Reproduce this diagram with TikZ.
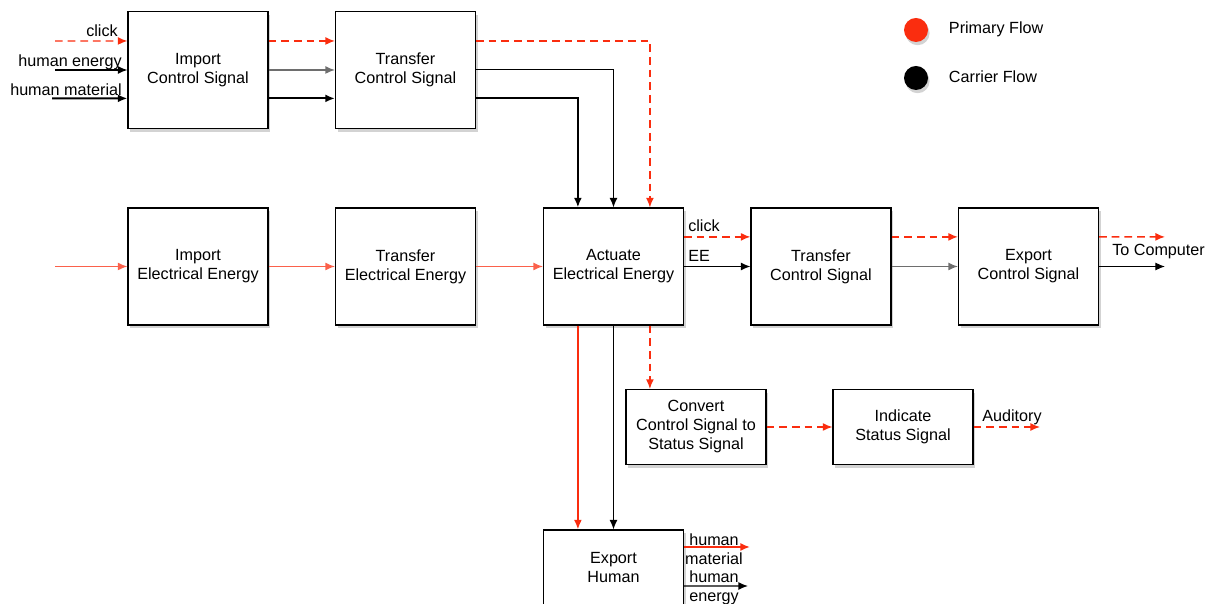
\documentclass[tikz,border=0pt]{standalone}
\usepackage{fontspec}
\setmainfont{Liberation Sans}
\usepackage{xcolor}
\usetikzlibrary{arrows.meta,positioning,calc,shadows}

\definecolor{flowred}{RGB}{250,45,15}
\definecolor{flowgray}{RGB}{110,110,110}

\tikzset{
    blockbox/.style={draw=black, line width=0.8pt, fill=white, align=center,
        minimum width=3.5cm, minimum height=2.925cm, inner sep=1pt,
        drop shadow={opacity=0.35, shadow xshift=0.6mm, shadow yshift=-0.8mm}},
    flowtip/.style={-{Latex[length=2.4mm,width=2mm]}},
    primdash/.style={flowtip, draw=flowred, line width=1pt, dash pattern=on 5.5pt off 3.5pt},
    primline/.style={flowtip, draw=flowred!75, line width=1pt},
    primthick/.style={flowtip, draw=flowred, line width=1.4pt},
    carrline/.style={flowtip, draw=black, line width=0.8pt},
    carrgray/.style={flowtip, draw=flowgray, line width=1pt},
    carrthick/.style={flowtip, draw=black, line width=1.4pt},
    flowlabel/.style={inner sep=0pt, align=center}
}

\begin{document}
\begin{tikzpicture}[x=0.025cm, y=0.025cm, font=\fontsize{11.5}{13.5}\selectfont]
    \useasboundingbox (0,0) rectangle (1212,604);

    % function blocks
    \foreach \name/\x/\y/\txt in {ics/198/534/{Import\\Control Signal},
        tcs/405.5/534/{Transfer\\Control Signal},
        iee/198/337.5/{Import\\Electrical Energy},
        tee/405.5/337.5/{Transfer\\Electrical Energy},
        aee/613.5/337.5/{Actuate\\Electrical Energy},
        tcsb/821/337.5/{Transfer\\Control Signal},
        ecs/1028.5/337.5/{Export\\Control Signal}} {
        \node[blockbox] (\name) at (\x,\y) {\txt};
    }
    \node[blockbox, minimum height=1.875cm] (conv) at (696,177) {Convert\\Control Signal to\\Status Signal};
    \node[blockbox, minimum height=1.875cm] (ind) at (903,177) {Indicate\\Status Signal};
    \node[blockbox, minimum height=1.9cm] (eh) at (613.5,36) {Export\\Human};

    % free ends
    \coordinate (inclick) at (55,563);
    \coordinate (inenergy) at (55,534);
    \coordinate (inmaterial) at (52,505.6);
    \coordinate (inee) at (55,337.5);
    \coordinate (outclick) at (1165,367.1);
    \coordinate (outcomp) at (1165,337.5);
    \coordinate (outaud) at (1040,177);
    \coordinate (outmat) at (750,57);
    \coordinate (outen) at (748,18);

    % control signal row
    \draw[primdash] (inclick) -- ([yshift=7.25mm]ics.west);
    \draw[carrline] (inenergy) -- (ics.west);
    \draw[carrthick] (inmaterial) -- ([yshift=-7.1mm]ics.west);
    \node[flowlabel, anchor=base east] (lclick) at (118,567) {click};
    \node[flowlabel, anchor=base east] (lenergy) at (122,537) {human energy};
    \node[flowlabel, anchor=base east] (lmaterial) at (122,508) {human material};

    \draw[primdash] ([yshift=7.25mm]ics.east) -- ([yshift=7.25mm]tcs.west);
    \draw[carrgray] (ics.east) -- (tcs.west);
    \draw[carrthick] ([yshift=-7.1mm]ics.east) -- ([yshift=-7.1mm]tcs.west);

    \draw[primdash] ([yshift=7.25mm]tcs.east) -| ([xshift=9.1mm]aee.north);
    \draw[carrline] ([yshift=0.2mm]tcs.east) -| (aee.north);
    \draw[carrthick] ([yshift=-7.1mm]tcs.east) -| ([xshift=-8.9mm]aee.north);

    % energy row
    \draw[primline] (inee) -- (iee.west);
    \draw[primline] (iee) -- (tee);
    \draw[primline] (tee) -- (aee);

    \draw[primdash] ([yshift=7.4mm]aee.east) -- ([yshift=7.4mm]tcsb.west);
    \draw[carrline] (aee.east) -- (tcsb.west);
    \node[flowlabel, anchor=base west] (lclickb) at (688,372) {click};
    \node[flowlabel, anchor=base west] (lee) at (688,342.5) {EE};

    \draw[primdash] ([yshift=7.4mm]tcsb.east) -- ([yshift=7.4mm]ecs.west);
    \draw[carrgray] (tcsb.east) -- (ecs.west);

    \draw[primdash] ([yshift=7.4mm]ecs.east) -- (outclick);
    \draw[carrline] (ecs.east) -- (outcomp);
    \node[flowlabel, anchor=base west] (lcomp) at (1112,348) {To Computer};

    % status signal
    \draw[primdash] ([xshift=9.1mm]aee.south) -- ([xshift=9.1mm]aee.south |- conv.north);
    \draw[primdash] (conv) -- (ind);
    \draw[primdash] (ind.east) -- (outaud);
    \node[flowlabel, anchor=base west] (laud) at (982,182) {Auditory};

    % export human
    \draw[primthick, line width=1.2pt] ([xshift=-8.9mm]aee.south) -- ([xshift=-8.9mm]eh.north);
    \draw[carrline] (aee.south) -- (eh.north);
    \draw[primthick, line width=1.2pt] ([yshift=5.25mm]eh.east) -- (outmat);
    \draw[carrline, line width=1pt] ([yshift=-4.5mm]eh.east) -- (outen);
    \node[flowlabel] (lmat) at (714,55) {human\\material};
    \node[flowlabel] (len) at (714,16) {human\\energy};

    % legend
    \node[circle, fill=flowred, minimum size=6mm, inner sep=0pt,
        drop shadow={opacity=0.35, shadow xshift=0.4mm, shadow yshift=-0.8mm}] (legprim) at (916,574) {};
    \node[circle, fill=black, minimum size=6mm, inner sep=0pt,
        drop shadow={opacity=0.35, shadow xshift=0.4mm, shadow yshift=-0.8mm}] (legcarr) at (916,526) {};
    \node[anchor=west] (lprim) at (944,575) {Primary Flow};
    \node[anchor=west] (lcarr) at (944,527) {Carrier Flow};
\end{tikzpicture}
\end{document}
